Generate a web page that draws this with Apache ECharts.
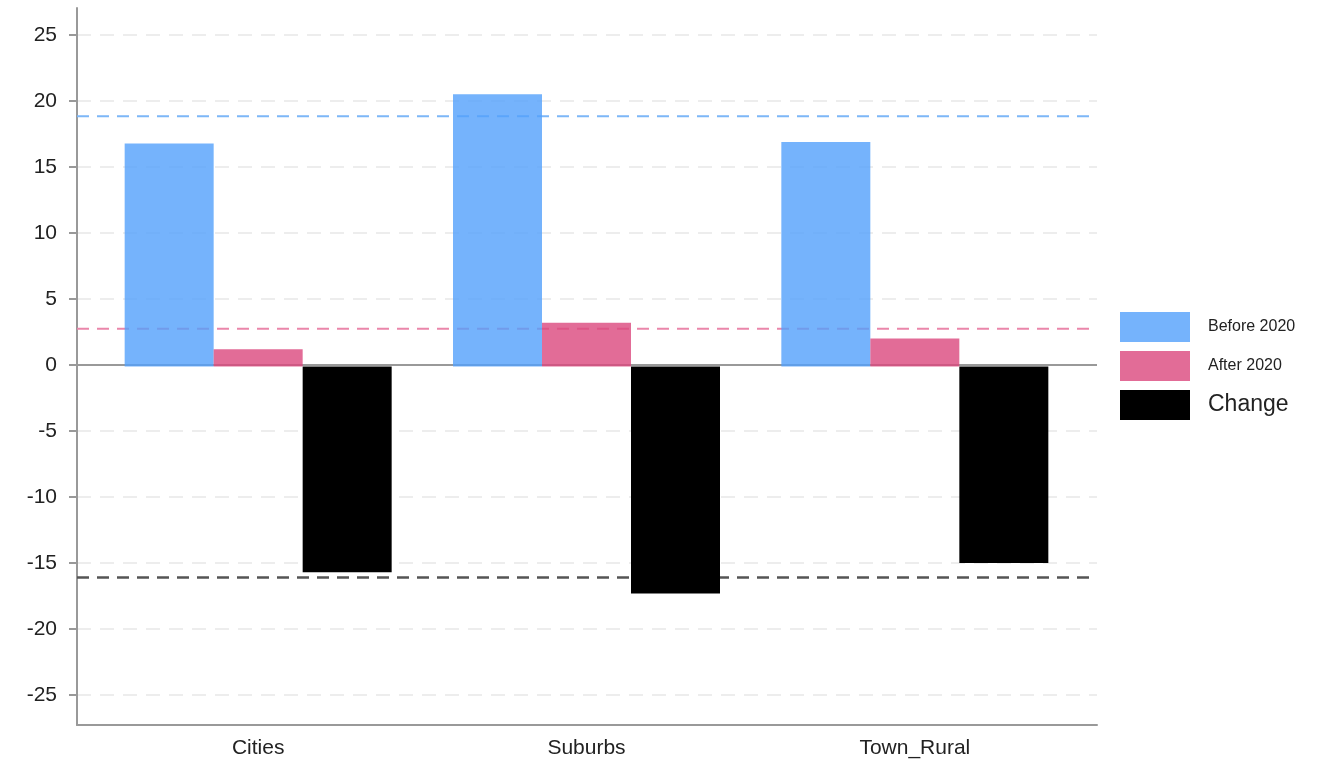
<!DOCTYPE html>
<html>
<head>
<meta charset="utf-8">
<script src="https://cdn.jsdelivr.net/npm/echarts@6/dist/echarts.min.js"></script>
<style>
    html, body { margin: 0; padding: 0; background: #fff; }
    #main { width: 1344px; height: 767px; }
</style>
</head>
<body>
<div id="main"></div>
<script>
    var categories = ['Cities', 'Suburbs', 'Town_Rural'];
    var beforeValues = [16.8, 20.5, 16.9];
    var afterValues = [1.3, 3.3, 2.1];
    var changeValues = [-15.5, -17.1, -14.8];
    // dashed reference lines
    var beforeMean = 18.85;
    var afterMean = 2.75;
    var changeMean = -16.1;

    var chart = echarts.init(document.getElementById('main'));
    var font = '"Liberation Sans", Arial, sans-serif';

    function flat(v) {
        return [[0, v], [1, v]];
    }

    function refLine(name, v, color, width) {
        return {
            name: name,
            type: 'line',
            xAxisIndex: 1,
            yAxisIndex: 1,
            data: flat(v),
            symbol: 'none',
            silent: true,
            z: 1,
            lineStyle: { color: color, width: width, type: [12, 8] }
        };
    }

    var options = {
        backgroundColor: '#fff',
        animation: false,
        textStyle: { fontFamily: font },
        grid: [
            { left: 77, right: 247, top: 8, bottom: 42 },
            { left: 77, right: 247, top: 35, bottom: 72 },
            { left: 94, right: 265, top: 8, bottom: 42 }
        ],
        legend: {
            orient: 'vertical',
            left: 1120,
            top: 312,
            padding: 0,
            itemWidth: 70,
            itemHeight: 30,
            itemGap: 9,
            icon: 'rect',
            data: ['Before 2020', 'After 2020', 'Change'],
            formatter: function (name) {
                return name === 'Change' ? '{b|' + name + '}' : '{s|' + name + '}';
            },
            textStyle: {
                padding: [0, 0, 0, 13],
                rich: {
                    s: { fontSize: 16, color: '#222', fontFamily: font },
                    b: { fontSize: 23, color: '#222', fontFamily: font }
                }
            }
        },
        xAxis: [
            {
                gridIndex: 0, type: 'value', min: 0, max: 1,
                axisLine: { show: true, onZero: false, lineStyle: { color: '#999', width: 2 } },
                axisTick: { show: false }, axisLabel: { show: false }, splitLine: { show: false }
            },
            {
                gridIndex: 1, type: 'value', min: 0, max: 1, show: false
            },
            {
                gridIndex: 2, type: 'category', data: categories,
                axisLine: { show: false }, axisTick: { show: false },
                axisLabel: { margin: 13, fontSize: 21, color: '#222', fontFamily: font }
            }
        ],
        yAxis: [
            {
                gridIndex: 0, type: 'value', min: -27, max: 27,
                axisLine: { show: true, lineStyle: { color: '#999', width: 2 } },
                axisTick: { show: false }, axisLabel: { show: false }, splitLine: { show: false }
            },
            {
                gridIndex: 1, type: 'value', min: -25, max: 25, interval: 5,
                axisLine: { show: false },
                axisTick: { show: true, length: 8, lineStyle: { color: '#999', width: 2 } },
                axisLabel: { margin: 20, fontSize: 21, color: '#222', fontFamily: font },
                splitLine: { show: true, lineStyle: { color: '#e8e8e8', width: 1.5, type: [14, 9] } }
            },
            {
                gridIndex: 2, type: 'value', min: -27, max: 27, show: false
            }
        ],
        series: [
            {
                name: 'Before 2020', type: 'bar', xAxisIndex: 2, yAxisIndex: 2,
                data: beforeValues, barWidth: 89, barGap: '0%', z: 3,
                itemStyle: { color: '#52a0fb', opacity: 0.8 }
            },
            {
                name: 'After 2020', type: 'bar', xAxisIndex: 2, yAxisIndex: 2,
                data: afterValues, barWidth: 89, barGap: '0%', z: 3,
                itemStyle: { color: '#db477d', opacity: 0.8 }
            },
            {
                name: 'Change', type: 'bar', xAxisIndex: 2, yAxisIndex: 2,
                data: changeValues, barWidth: 89, barGap: '0%', z: 3,
                itemStyle: { color: '#000' }
            },
            {
                name: 'zero', type: 'line', xAxisIndex: 1, yAxisIndex: 1,
                data: flat(0), symbol: 'none', silent: true, z: 1,
                lineStyle: { color: '#999', width: 2 }
            },
            refLine('beforeMean', beforeMean, '#7db7f7', 2),
            refLine('afterMean', afterMean, '#ea86aa', 2),
            refLine('changeMean', changeMean, '#555', 2.5)
        ]
    };

    chart.setOption(options);
</script>
</body>
</html>
